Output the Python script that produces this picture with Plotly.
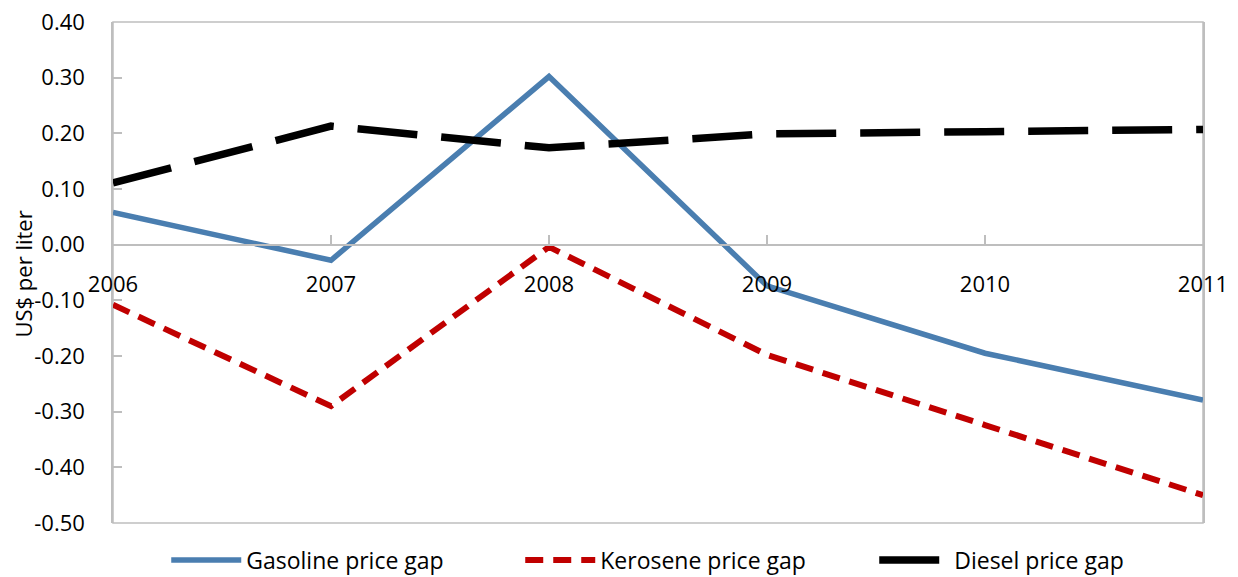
import plotly.graph_objects as go

years = [2006, 2007, 2008, 2009, 2010, 2011]
gasoline = [0.058, -0.028, 0.302, -0.074, -0.195, -0.279]
kerosene = [-0.108, -0.290, -0.004, -0.198, -0.324, -0.450]
diesel = [0.111, 0.213, 0.174, 0.199, 0.203, 0.207]
y_ticks = [0.40, 0.30, 0.20, 0.10, 0.00, -0.10, -0.20, -0.30, -0.40, -0.50]
y_min, y_max = -0.50, 0.40

grey = "#BEBEBE"
font = "Open Sans"

fig = go.Figure()
fig.add_trace(go.Scatter(x=years, y=gasoline, mode="lines", name="Gasoline price gap",
                         line=dict(color="#4A7EB0", width=5.5)))
fig.add_trace(go.Scatter(x=years, y=kerosene, mode="lines", name="Kerosene price gap",
                         line=dict(color="#C00000", width=6, dash="18px,10px")))
fig.add_trace(go.Scatter(x=years, y=diesel, mode="lines", name="Diesel price gap",
                         line=dict(color="#000000", width=7.5, dash="60px,24px")))

zero_pos = (0 - y_min) / (y_max - y_min)

fig.update_layout(
    width=1230, height=569,
    margin=dict(l=105, r=35, t=14, b=54, autoexpand=False),
    plot_bgcolor="white", paper_bgcolor="white",
    font=dict(family=font, size=22, color="#000000"),
    showlegend=True,
    legend=dict(orientation="h", x=0.536, xanchor="center", y=-0.031, yanchor="top",
                font=dict(size=23), itemwidth=70, entrywidth=269, traceorder="normal"),
    xaxis=dict(range=[2006, 2011], tickvals=years, ticktext=[str(y) for y in years],
               anchor="free", position=zero_pos, showline=True, linecolor=grey, linewidth=1.5,
               ticks="inside", ticklen=9, tickcolor=grey, tickwidth=1.5,
               showgrid=False, zeroline=False, ticklabelstandoff=20,
               tickfont=dict(size=22), ticklabeloverflow="allow"),
    yaxis=dict(range=[y_min, y_max], tickvals=y_ticks, ticktext=[f"{v:.2f}" for v in y_ticks],
               showline=True, linecolor=grey, linewidth=1.5, mirror=True,
               ticks="inside", ticklen=9, tickcolor=grey, tickwidth=1.5,
               showgrid=False, zeroline=False, ticklabelstandoff=22,
               tickfont=dict(size=22), ticklabeloverflow="allow"),
    shapes=[dict(type="rect", xref="paper", yref="paper", x0=0, x1=1, y0=0, y1=1,
                 line=dict(color=grey, width=1.5), layer="below")],
    annotations=[dict(text="US$ per liter", xref="paper", yref="paper",
                      x=-0.083, y=0.497, xanchor="center", yanchor="middle",
                      textangle=-90, showarrow=False, font=dict(size=22))],
)

fig.write_html("out.html")
